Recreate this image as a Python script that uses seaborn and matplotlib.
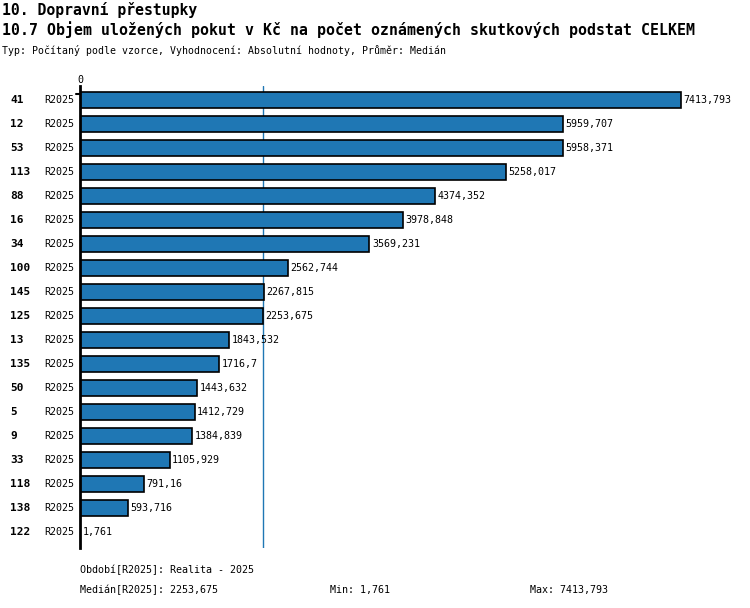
import matplotlib
matplotlib.use("Agg")
import matplotlib.pyplot as plt
import matplotlib.transforms as mtransforms
import pandas as pd
import seaborn as sns

# data
ids = ["41", "12", "53", "113", "88", "16", "34", "100", "145", "125",
       "13", "135", "50", "5", "9", "33", "118", "138", "122"]
periods = ["R2025"] * len(ids)
values = [7413.793, 5959.707, 5958.371, 5258.017, 4374.352, 3978.848,
          3569.231, 2562.744, 2267.815, 2253.675, 1843.532, 1716.7,
          1443.632, 1412.729, 1384.839, 1105.929, 791.16, 593.716, 1.761]
median_value = 2253.675

title1 = "10. Dopravní přestupky"
title2 = "10.7 Objem uložených pokut v Kč na počet oznámených skutkových podstat CELKEM"
subtitle = "Typ: Počítaný podle vzorce, Vyhodnocení: Absolutní hodnoty, Průměr: Medián"


def fmt(v):
    s = f"{v:.3f}".rstrip("0").rstrip(".")
    return s.replace(".", ",")


df = pd.DataFrame({"id": ids, "period": periods, "value": values})

sns.set_style("white")
plt.rcParams["font.family"] = ["DejaVu Sans Mono", "DejaVu Sans"]
plt.rcParams["text.color"] = "black"

W, H = 750, 608
fig = plt.figure(figsize=(W / 100, H / 100), dpi=100)

# axes placed in pixel terms: left 80, top 86, right 720, bottom 548
left, right, top, bottom = 80, 720, 86, 548
ax = fig.add_axes([left / W, 1 - bottom / H, (right - left) / W, (bottom - top) / H])

sns.barplot(data=df, x="value", y="id", orient="h", order=ids,
            color="#1f77b4", saturation=1, edgecolor="black", linewidth=1.2,
            width=0.667, ax=ax)

# 7413.793 sits at x=681 px
xmax = (right - left) / (681 - left) * max(values)
ax.set_xlim(0, xmax)
ax.set_ylim((bottom - 100) / 24, (top - 100) / 24)

ax.axvline(median_value, color="#1f77b4", linewidth=1, zorder=0.5)

for sp in ["top", "right", "bottom"]:
    ax.spines[sp].set_visible(False)
ax.spines["left"].set_linewidth(2)
ax.spines["left"].set_color("black")
ax.set_xticks([])
ax.set_yticks([])
ax.set_xlabel("")
ax.set_ylabel("")

trans = mtransforms.blended_transform_factory(fig.transFigure, ax.transData)
for i, (rid, per, v) in enumerate(zip(ids, periods, values)):
    ax.text(v + xmax * 0.004, i, fmt(v), va="center", ha="left", fontsize=7.2)
    fig.text(10 / W, i, rid, transform=trans, va="center", ha="left",
             fontsize=8, fontweight="bold")
    fig.text(44 / W, i, per, transform=trans, va="center", ha="left",
             fontsize=7.2)

# small tick at the top of the axis
ax.plot([-xmax * 0.006, 0], [-0.25, -0.25], color="black", lw=1.5,
        clip_on=False)
fig.text(left / W, 1 - 80 / H, "0", ha="center", va="center", fontsize=7.2)

fig.text(2 / W, 1 - 10 / H, title1, ha="left", va="center", fontsize=10.6,
         fontweight="bold")
fig.text(2 / W, 1 - 30 / H, title2, ha="left", va="center", fontsize=10.7,
         fontweight="bold")
fig.text(2 / W, 1 - 50 / H, subtitle, ha="left", va="center", fontsize=7.1)

fig.text(80 / W, 1 - 570 / H, "Období[R2025]: Realita - 2025", ha="left",
         va="center", fontsize=7.2)
fig.text(80 / W, 1 - 590 / H, "Medián[R2025]: " + fmt(median_value), ha="left",
         va="center", fontsize=7.2)
fig.text(330 / W, 1 - 590 / H, "Min: " + fmt(min(values)), ha="left",
         va="center", fontsize=7.2)
fig.text(530 / W, 1 - 590 / H, "Max: " + fmt(max(values)), ha="left",
         va="center", fontsize=7.2)

fig.savefig("out.png", dpi=100)
